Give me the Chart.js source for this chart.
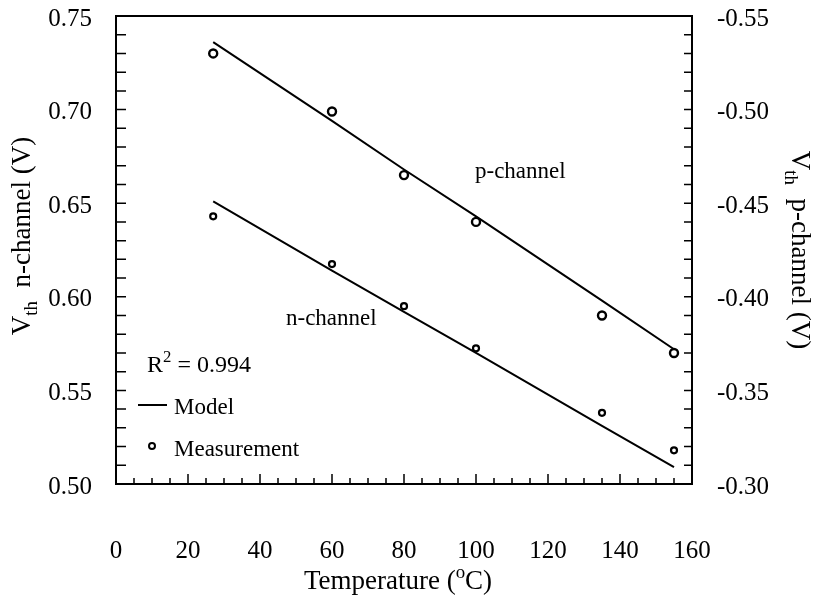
<!DOCTYPE html>
<html>
<head>
<meta charset="utf-8">
<script src="https://cdn.jsdelivr.net/npm/chart.js@4.4.0/dist/chart.umd.min.js"></script>
<style>
  html, body { margin: 0; padding: 0; background: #fff; }
</style>
</head>
<body>
<canvas id="vthChart" width="821" height="599"></canvas>
<script>
// temperatures (degC) where Vth was measured
var temps = [27, 60, 80, 100, 135, 155];
// n-channel, left axis (V)
var nMeasured = [0.643, 0.6175, 0.595, 0.5725, 0.538, 0.518];
var nModel = [0.651, 0.614, 0.592, 0.570, 0.531, 0.509];
// p-channel, right axis (V)
var pMeasured = [-0.530, -0.499, -0.465, -0.440, -0.390, -0.370];
var pModel = [-0.536, -0.494, -0.468, -0.443, -0.398, -0.372];

var serif = "'Liberation Serif', 'DejaVu Serif', serif";

var toPoints = function(xs, ys) {
  return xs.map(function(x, i) { return { x: x, y: ys[i] }; });
};

// draws text made of parts, some of them sub/superscript, centred on (0,0)
var drawParts = function(c, parts, size) {
  var total = 0;
  parts.forEach(function(p) {
    c.font = (p.sub || p.sup ? size * 0.7 : size) + "px " + serif;
    p.w = c.measureText(p.t).width;
    total += p.w;
  });
  var x = -total / 2;
  parts.forEach(function(p) {
    c.font = (p.sub || p.sup ? size * 0.7 : size) + "px " + serif;
    var dy = p.sub ? size * 0.25 : (p.sup ? -size * 0.42 : 0);
    c.fillText(p.t, x, dy);
    x += p.w;
  });
};

var frameAndText = {
  id: "frameAndText",
  afterDraw: function(chart) {
    var c = chart.ctx;
    var a = chart.chartArea;
    var xs = chart.scales.x, yn = chart.scales.yN, yp = chart.scales.yP;
    c.save();
    c.strokeStyle = "#000";
    c.fillStyle = "#000";
    c.lineWidth = 2;
    c.strokeRect(a.left, a.top, a.right - a.left, a.bottom - a.top);

    // inward ticks
    c.lineWidth = 1.5;
    c.beginPath();
    for (var t = 0; t <= 160; t += 5) {
      var px = xs.getPixelForValue(t);
      var len = t % 20 === 0 ? 10 : 6;
      c.moveTo(px, a.bottom);
      c.lineTo(px, a.bottom - len);
    }
    for (var i = 1; i < 25; i++) {
      var py = yn.getPixelForValue(0.5 + i * 0.01);
      c.moveTo(a.left, py);
      c.lineTo(a.left + 10, py);
      var pr = yp.getPixelForValue(-0.55 + i * 0.01);
      c.moveTo(a.right, pr);
      c.lineTo(a.right - 8, pr);
    }
    c.stroke();

    c.textBaseline = "alphabetic";
    c.textAlign = "left";

    // axis titles
    c.save();
    c.translate(30, 236);
    c.rotate(-Math.PI / 2);
    drawParts(c, [{ t: "V" }, { t: "th", sub: true }, { t: "  n-channel (V)" }], 27);
    c.restore();

    c.save();
    c.translate(792, 250);
    c.rotate(Math.PI / 2);
    drawParts(c, [{ t: "V" }, { t: "th", sub: true }, { t: "  p-channel (V)" }], 27);
    c.restore();

    c.save();
    c.translate(398, 589);
    drawParts(c, [{ t: "Temperature (" }, { t: "o", sup: true }, { t: "C)" }], 27);
    c.restore();

    // curve labels
    c.font = "23px " + serif;
    c.fillText("p-channel", 475, 178);
    c.fillText("n-channel", 286, 325);

    // legend
    c.save();
    c.translate(199, 372);
    drawParts(c, [{ t: "R" }, { t: "2", sup: true }, { t: " = 0.994" }], 24);
    c.restore();
    c.font = "23px " + serif;
    c.lineWidth = 2;
    c.beginPath();
    c.moveTo(138, 405);
    c.lineTo(167, 405);
    c.stroke();
    c.fillText("Model", 174, 414);
    c.beginPath();
    c.arc(152, 446, 3, 0, Math.PI * 2);
    c.stroke();
    c.fillText("Measurement", 174, 456);
    c.restore();
  }
};

Chart.defaults.font.family = serif;
Chart.defaults.color = "#000";

var yAxisBase = function(pos, width, pad) {
  return {
    position: pos,
    grid: { display: false, drawTicks: false },
    border: { display: false },
    ticks: {
      font: { size: 25 },
      padding: pad,
      labelOffset: 3,
      callback: function(v) { return Number(v).toFixed(2); }
    },
    afterFit: function(s) {
      s.width = width;
      s.paddingTop = 0;
      s.paddingBottom = 0;
    }
  };
};

var yN = yAxisBase("left", 116, 24);
yN.min = 0.5; yN.max = 0.75; yN.ticks.stepSize = 0.05;
var yP = yAxisBase("right", 129, 25);
yP.min = -0.55; yP.max = -0.30; yP.reverse = true; yP.ticks.stepSize = 0.05;

var vthChart = new Chart(document.getElementById("vthChart"), {
  type: "line",
  data: {
    datasets: [
      {
        label: "n model",
        data: toPoints(temps, nModel),
        yAxisID: "yN",
        borderColor: "#000",
        borderWidth: 2,
        pointRadius: 0,
        tension: 0
      },
      {
        label: "p model",
        data: toPoints(temps, pModel),
        yAxisID: "yP",
        borderColor: "#000",
        borderWidth: 2,
        pointRadius: 0,
        tension: 0
      },
      {
        label: "n measured",
        data: toPoints(temps, nMeasured),
        yAxisID: "yN",
        showLine: false,
        pointRadius: 3,
        pointBorderWidth: 2.2,
        pointBorderColor: "#000",
        pointBackgroundColor: "#fff"
      },
      {
        label: "p measured",
        data: toPoints(temps, pMeasured),
        yAxisID: "yP",
        showLine: false,
        pointRadius: 4,
        pointBorderWidth: 2.4,
        pointBorderColor: "#000",
        pointBackgroundColor: "#fff"
      }
    ]
  },
  options: {
    responsive: false,
    devicePixelRatio: 1,
    animation: false,
    layout: { padding: { top: 16 } },
    plugins: { legend: { display: false }, tooltip: { enabled: false } },
    scales: {
      x: {
        type: "linear",
        min: 0,
        max: 160,
        grid: { display: false, drawTicks: false },
        border: { display: false },
        ticks: { stepSize: 20, font: { size: 25 }, padding: 52 },
        afterFit: function(s) {
          s.height = 115;
          s.paddingLeft = 0;
          s.paddingRight = 0;
        }
      },
      yN: yN,
      yP: yP
    }
  },
  plugins: [frameAndText]
});
</script>
</body>
</html>
